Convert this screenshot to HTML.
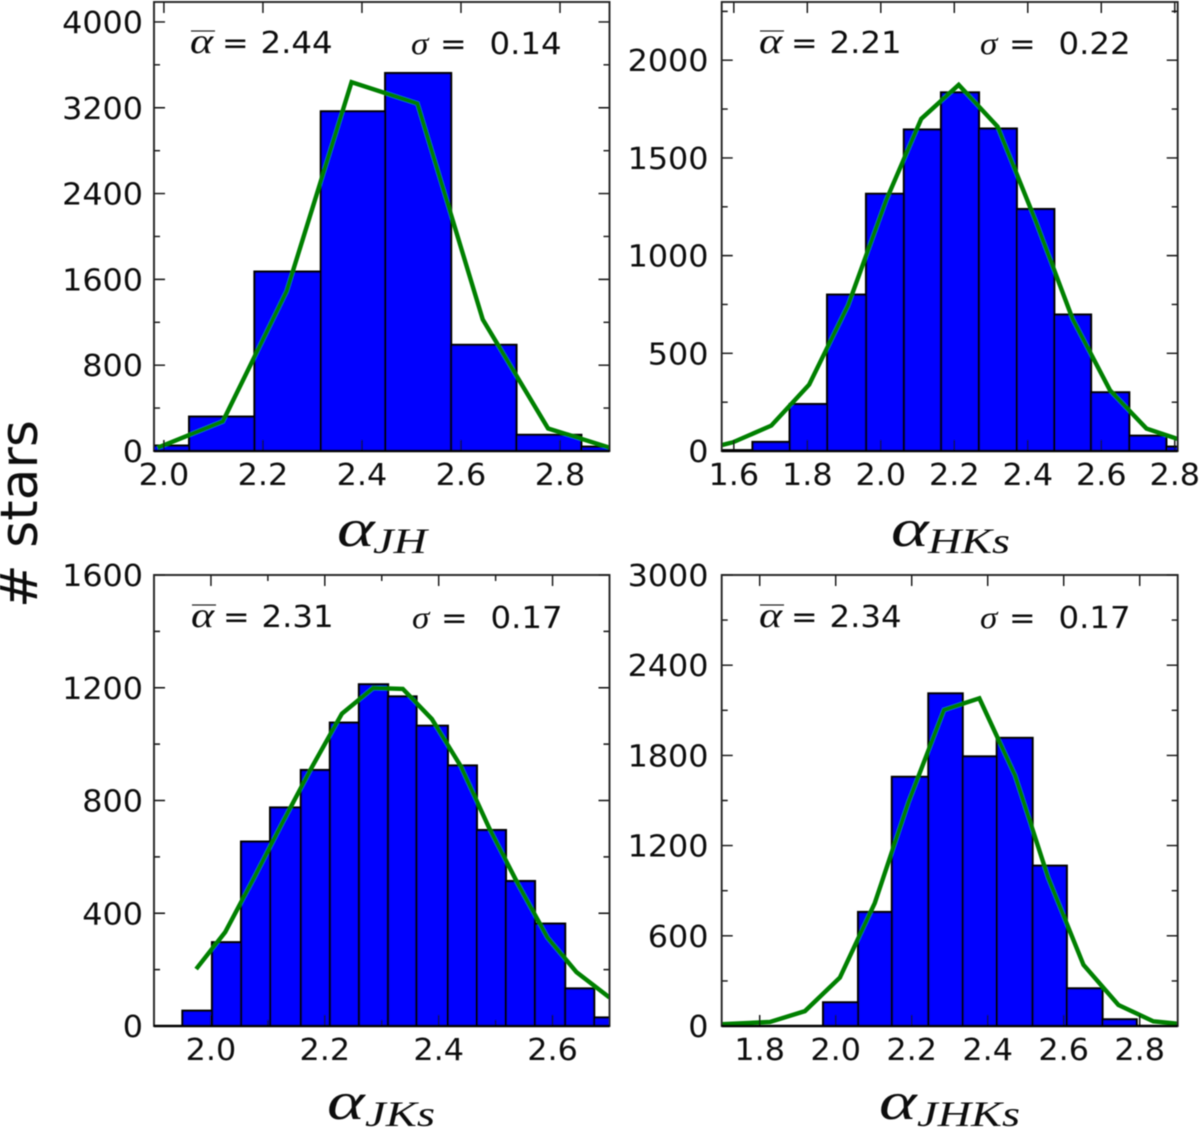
<!DOCTYPE html>
<html lang="en">
<head>
<meta charset="utf-8">
<title>Histograms of alpha for JH, HKs, JKs and JHKs</title>
<style>
html,body{margin:0;padding:0;background:#fff;}
svg{display:block;}
text{fill:#111;}
.tick{font-family:"DejaVu Sans","Liberation Sans",sans-serif;font-size:30px;}
.math{font-family:"Liberation Serif","DejaVu Serif",serif;font-style:italic;}
</style>
</head>
<body>
<svg id="figure" xmlns="http://www.w3.org/2000/svg" width="1200" height="1131" viewBox="0 0 1200 1131">
  <defs>
    <filter id="soft" x="0" y="0" width="1200" height="1131" filterUnits="userSpaceOnUse">
      <feGaussianBlur stdDeviation="0.6"/>
    </filter>
  </defs>
  <rect x="0" y="0" width="1200" height="1131" fill="#fff"/>
  <g id="root" filter="url(#soft)">
    <text transform="translate(37,608) rotate(-90)" font-family="'DejaVu Sans',sans-serif" font-size="52">
      # stars
    </text>
  </g>
</svg>
<script>
// ---- alpha JH ----
const jhEdges  = [1.919,2.051,2.183,2.317,2.447,2.58,2.712,2.843,2.975];
const jhCounts = [50,320,1672,3166,3523,989,150,40];
const jhCurveX = [1.987,2.119,2.248,2.379,2.512,2.644,2.776,2.908];
const jhCurveY = [30,276,1491,3439,3240,1226,210,20];
const jhXTicks = [2.0,2.2,2.4,2.6,2.8];
const jhYTicks = [0,800,1600,2400,3200,4000];
const jhYMinor = [400,1200,2000,2800,3600];
const jhXMinor = [];

// ---- alpha HKs ----
const hkEdges  = [1.549,1.651,1.752,1.854,1.96,2.063,2.164,2.267,2.37,2.472,2.572,2.676,2.777,2.879];
const hkCounts = [4,46,240,800,1316,1645,1835,1650,1238,698,300,78,22];
const hkCurveX = [1.567,1.598,1.702,1.805,1.911,2.015,2.11,2.212,2.318,2.422,2.522,2.624,2.723,2.826];
const hkCurveY = [30,45,130,340,746,1285,1700,1874,1660,1175,676,310,115,50];
const hkXTicks = [1.6,1.8,2.0,2.2,2.4,2.6,2.8];
const hkYTicks = [0,500,1000,1500,2000];
const hkYMinor = [250,750,1250,1750,2250];
const hkXMinor = [];

// ---- alpha JKs ----
const jkEdges  = [1.95,2.002,2.053,2.104,2.158,2.209,2.26,2.311,2.361,2.416,2.467,2.518,2.569,2.622,2.673,2.725];
const jkCounts = [54,297,654,775,908,1076,1212,1169,1065,924,695,514,363,133,30];
const jkCurveX = [1.974,2.025,2.076,2.127,2.178,2.23,2.285,2.337,2.388,2.439,2.489,2.54,2.591,2.642,2.70];
const jkCurveY = [202,333,527,727,921,1108,1199,1196,1089,921,701,501,314,191,101];
const jkXTicks = [2.0,2.2,2.4,2.6];
const jkYTicks = [0,400,800,1200,1600];
const jkYMinor = [200,600,1000,1400];
const jkXMinor = [2.1,2.3,2.5];

// ---- alpha JHKs ----
const jhkEdges  = [1.967,2.059,2.148,2.244,2.334,2.424,2.518,2.608,2.702,2.792];
const jhkCounts = [157,758,1657,2212,1793,1916,1066,250,44];
const jhkCurveX = [1.7,1.827,1.919,2.011,2.103,2.191,2.285,2.378,2.472,2.559,2.652,2.744,2.836,2.9];
const jhkCurveY = [12,27,99,322,819,1485,2103,2180,1667,988,407,140,31,15];
const jhkXTicks = [1.8,2.0,2.2,2.4,2.6,2.8];
const jhkYTicks = [0,600,1200,1800,2400,3000];
const jhkYMinor = [300,900,1500,2100,2700];
const jhkXMinor = [];

const panels = [
  {id:'jh', edges:jhEdges, counts:jhCounts, cx:jhCurveX, cy:jhCurveY, xt:jhXTicks, yt:jhYTicks, ym:jhYMinor, xm:jhXMinor,
   box:{l:154,r:609.5,t:2,b:451}, xlim:[1.98,2.9], ylim:[0,4186], mean:'2.44', sigma:'0.14', sub:'JH', subW:54,
   tickBase:485, meanBase:53, barY:31, dx:0, alphaX:337, subX:373, labelBase:546, subBase:553},
  {id:'hks', edges:hkEdges, counts:hkCounts, cx:hkCurveX, cy:hkCurveY, xt:hkXTicks, yt:hkYTicks, ym:hkYMinor, xm:hkXMinor,
   box:{l:721.7,r:1177.7,t:2,b:451}, xlim:[1.567,2.808], ylim:[0,2298], mean:'2.21', sigma:'0.22', sub:'HKs', subW:82,
   tickBase:485, meanBase:53, barY:31, dx:569, alphaX:891, subX:928, labelBase:546, subBase:553},
  {id:'jks', edges:jkEdges, counts:jkCounts, cx:jkCurveX, cy:jkCurveY, xt:jkXTicks, yt:jkYTicks, ym:jkYMinor, xm:jkXMinor,
   box:{l:154,r:609.5,t:575,b:1026}, xlim:[1.9,2.7], ylim:[0,1600], mean:'2.31', sigma:'0.17', sub:'JKs', subW:70,
   tickBase:1060, meanBase:627, barY:605, dx:1, alphaX:327, subX:365, labelBase:1119, subBase:1126},
  {id:'jhks', edges:jhkEdges, counts:jhkCounts, cx:jhkCurveX, cy:jhkCurveY, xt:jhkXTicks, yt:jhkYTicks, ym:jhkYMinor, xm:jhkXMinor,
   box:{l:721.7,r:1177.7,t:575,b:1026}, xlim:[1.7,2.9], ylim:[0,3000], mean:'2.34', sigma:'0.17', sub:'JHKs', subW:103,
   tickBase:1060, meanBase:627, barY:605, dx:569, alphaX:879, subX:917, labelBase:1119, subBase:1126}
];

const NS = 'http://www.w3.org/2000/svg';
const root = document.getElementById('root');
const defs = document.querySelector('defs');

function make(tag, parent, attrs) {
  const node = document.createElementNS(NS, tag);
  for (const k in attrs) node.setAttribute(k, attrs[k]);
  parent.appendChild(node);
  return node;
}

function drawPanel(p) {
  const b = p.box;
  const X = v => b.l + (v - p.xlim[0]) / (p.xlim[1] - p.xlim[0]) * (b.r - b.l);
  const Y = v => b.b - (v - p.ylim[0]) / (p.ylim[1] - p.ylim[0]) * (b.b - b.t);

  const clip = make('clipPath', defs, {id:'clip-' + p.id});
  make('rect', clip, {x:b.l, y:b.t, width:b.r - b.l, height:b.b - b.t});

  const g = make('g', root, {});
  
  

  const plot = make('g', g, {'clip-path':'url(#clip-' + p.id + ')'});
  
  

  p.counts.forEach(function (c, i) {
    const bar = make('rect', plot, {
      x:X(p.edges[i]), y:Y(c),
      width:X(p.edges[i + 1]) - X(p.edges[i]), height:Y(0) - Y(c),
      fill:'#0000ff', stroke:'#000', 'stroke-width':2.3
    });
    
    
  });

  const pts = p.cx.map((x, i) => X(x) + ',' + Y(p.cy[i])).join(' ');
  const curve = make('polyline', plot, {points:pts, fill:'none', stroke:'#008000', 'stroke-width':4.4, 'stroke-linejoin':'miter'});
  
  

  const tickPath = [];
  p.yt.forEach(function (v) {
    tickPath.push('M' + b.l + ' ' + Y(v) + 'h11', 'M' + b.r + ' ' + Y(v) + 'h-11');
    const t = make('text', g, {class:'tick', 'text-anchor':'end',
      transform:'translate(' + (p.dx >= 569 ? 708.5 : 143) + ',' + (Y(v) + 11) + ') scale(1.06,1)'});
    t.textContent = String(v);
    
    
  });
  p.ym.forEach(function (v) {
    tickPath.push('M' + b.l + ' ' + Y(v) + 'h6', 'M' + b.r + ' ' + Y(v) + 'h-6');
  });
  p.xt.forEach(function (v) {
    tickPath.push('M' + X(v) + ' ' + b.b + 'v-11', 'M' + X(v) + ' ' + b.t + 'v11');
    const t = make('text', g, {class:'tick', 'text-anchor':'middle',
      transform:'translate(' + X(v) + ',' + p.tickBase + ') scale(1.06,1)'});
    t.textContent = v.toFixed(1);
    
    
  });
  p.xm.forEach(function (v) {
    tickPath.push('M' + X(v) + ' ' + b.b + 'v-6', 'M' + X(v) + ' ' + b.t + 'v6');
  });
  const ticks = make('path', g, {d:tickPath.join(''), stroke:'#111', 'stroke-width':1.4, fill:'none'});
  
  

  const frame = make('rect', g, {x:b.l, y:b.t, width:b.r - b.l, height:b.b - b.t, fill:'none', stroke:'#222', 'stroke-width':1.9});
  
  

  const baseline = make('line', g, {x1:b.l, x2:b.r, y1:b.b, y2:b.b, stroke:'#000', 'stroke-width':2.6});
  
  

  // statistic annotations
  const mathA = make('text', g, {class:'math', 'font-size':36,
    transform:'translate(' + (190 + p.dx) + ',' + p.meanBase + ') scale(1.22,1)'});
  mathA.textContent = '\u03B1';
  
  

  const over = make('line', g, {x1:191 + p.dx, x2:215 + p.dx, y1:p.barY, y2:p.barY, stroke:'#222', 'stroke-width':1.3});
  
  

  const meanEq = make('text', g, {class:'tick', transform:'translate(' + (222 + p.dx) + ',' + p.meanBase + ') scale(1.06,1)'});
  meanEq.textContent = '=';
  
  

  const meanText = make('text', g, {class:'tick', transform:'translate(' + (260.5 + p.dx) + ',' + p.meanBase + ') scale(1.08,1)'});
  meanText.textContent = p.mean;
  
  

  const sig = make('text', g, {class:'math', 'font-size':32,
    transform:'translate(' + (411 + p.dx) + ',' + (p.meanBase + 1) + ') scale(1.1,1)'});
  sig.textContent = '\u03C3';
  
  

  const eq = make('text', g, {class:'tick', transform:'translate(' + (440 + p.dx) + ',' + (p.meanBase + 1) + ') scale(1.06,1)'});
  eq.textContent = '=';
  
  

  const sigText = make('text', g, {class:'tick', transform:'translate(' + (489.5 + p.dx) + ',' + (p.meanBase + 1) + ') scale(1.08,1)'});
  sigText.textContent = p.sigma;
  
  

  // x-axis title
  const xa = make('text', g, {class:'math', 'font-size':56,
    transform:'translate(' + p.alphaX + ',' + p.labelBase + ') scale(1.28,0.95)'});
  xa.textContent = '\u03B1';
  
  

  const xs = make('text', g, {class:'math', x:p.subX, y:p.subBase, 'font-size':36,
    textLength:p.subW, lengthAdjust:'spacingAndGlyphs'});
  xs.textContent = p.sub;
  
  
}

panels.forEach(drawPanel);
</script>
</body>
</html>
